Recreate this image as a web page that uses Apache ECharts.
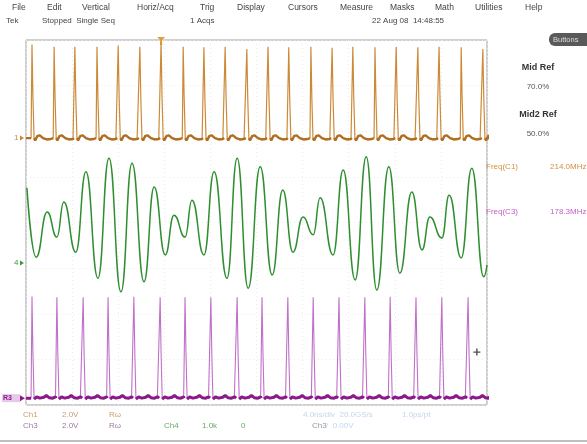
<!DOCTYPE html>
<html><head><meta charset="utf-8">
<script src="https://cdn.jsdelivr.net/npm/echarts@6/dist/echarts.min.js"></script>
<style>html,body{margin:0;padding:0;background:#fff}#c{width:587px;height:444px}</style>
</head><body><div id="c"></div>
<script>
// ---- data (time in divisions 0..10, amplitude in divisions 0..8) ----
const ch1PulseTimes = [0.13,0.61,1.06,1.54,2.00,2.47,2.93,3.41,3.86,4.32,4.79,5.25,5.70,6.18,6.64,7.09,7.57,8.03,8.50,8.96,9.44,9.91];
const ch1PulsePeaks = [7.90,7.85,7.85,7.85,7.88,7.85,7.95,7.85,7.84,7.85,7.80,7.85,7.84,7.85,7.83,7.85,7.84,7.85,7.84,7.85,7.84,7.80];
const ch1Baseline = 5.85;
const ch3PulseTimes = [0.13,0.67,1.24,1.78,2.34,2.91,3.45,4.01,4.58,5.12,5.68,6.23,6.79,7.35,7.90,8.46,9.02,9.59];
const ch3PulsePeaks = [2.38,2.36,2.36,2.36,2.37,2.36,2.36,2.36,2.36,2.36,2.36,2.36,2.36,2.36,2.37,2.36,2.36,2.36];
const ch3Baseline = 0.15;
const ch4Times  = [0.02,0.22,0.46,0.67,0.82,1.08,1.30,1.56,1.80,2.06,2.30,2.56,2.78,3.02,3.21,3.45,3.60,3.86,4.08,4.36,4.58,4.82,5.08,5.34,5.57,5.79,6.01,6.23,6.38,6.66,6.88,7.14,7.38,7.61,7.87,8.11,8.37,8.59,8.76,9.02,9.18,9.44,9.67,9.93,10.0];
const ch4Values = [4.76,3.24,4.23,3.68,4.45,3.35,5.11,2.78,5.41,2.48,5.30,2.70,4.78,3.29,4.16,3.68,4.49,3.29,5.11,2.78,5.41,2.56,5.22,2.85,4.71,3.35,4.12,3.73,4.54,3.29,5.15,2.74,5.44,2.52,5.22,2.89,4.67,3.40,4.12,3.66,4.60,3.22,5.19,2.81,3.07];
// pulse outline: [time offset, level, kind] p=peak, f=fraction of pulse height, b=offset from baseline
const ch1PulseShape = [[-0.02,0,'b'],[0,1,'p'],[0.02,0.45,'f'],[0.045,0,'b'],[0.07,-0.05,'b'],[0.12,0.05,'b'],[0.17,0.06,'b'],[0.24,0.0,'b'],[0.32,-0.03,'b'],[0.41,-0.02,'b']];
const ch3PulseShape = [[-0.02,0,'b'],[0,1,'p'],[0.02,0.45,'f'],[0.045,-0.02,'b'],[0.10,0.03,'b'],[0.17,0,'b'],[0.26,0.02,'b'],[0.31,0.06,'b'],[0.37,0.01,'b'],[0.45,0,'b'],[0.51,0.03,'b']];
const ch1Offset = 5.85, ch4Offset = 3.11, ch3Offset = 0.15;
const trigTime = 2.93;
const cursorPoint = [9.78, 1.16];
const menuItems = [['File',12],['Edit',47],['Vertical',82],['Horiz/Acq',137],['Trig',200],['Display',237],['Cursors',288],['Measure',340],['Masks',390],['Math',435],['Utilities',475],['Help',525]];

function buildTrace(times, peaks, base, shape, thickOnly) {
  const out = [[0, base]];
  times.forEach((t, i) => {
    const h = peaks[i] - base;
    shape.forEach(([dt, v, k]) => {
      let y;
      if (k === 'p') y = peaks[i];
      else if (k === 'f') y = base + v * h;
      else y = base + v;
      if (thickOnly && k !== 'b') { out.push([t + dt, '-']); return; }
      out.push([t + dt, y]);
    });
  });
  out.push([10, base]);
  return out;
}
const ch1Full = buildTrace(ch1PulseTimes, ch1PulsePeaks, ch1Baseline, ch1PulseShape, false);
const ch1Base = buildTrace(ch1PulseTimes, ch1PulsePeaks, ch1Baseline, ch1PulseShape, true);
const ch3Full = buildTrace(ch3PulseTimes, ch3PulsePeaks, ch3Baseline, ch3PulseShape, false);
const ch3Base = buildTrace(ch3PulseTimes, ch3PulsePeaks, ch3Baseline, ch3PulseShape, true);
const ch4Data = ch4Times.map((t, i) => [t, ch4Values[i]]);

const FONT = '"Liberation Sans", Arial, sans-serif';
const chart = echarts.init(document.getElementById('c'), null, {renderer: 'canvas'});
function txt(x, y, s, color, opts) {
  return Object.assign({type: 'text', x: x, y: y, silent: true,
    style: Object.assign({text: s, fill: color || '#555', font: '8px ' + FONT, textVerticalAlign: 'middle'}, (opts || {}))});
}
const graphics = [];
menuItems.forEach(([s, x]) => graphics.push(txt(x, 8, s, '#444', {font: '8.5px ' + FONT})));
graphics.push(txt(6, 21, 'Tek', '#444'));
graphics.push(txt(42, 21, 'Stopped  Single Seq', '#444'));
graphics.push(txt(190, 21, '1 Acqs', '#444'));
graphics.push(txt(372, 21, '22 Aug 08  14:48:55', '#444'));
graphics.push({type: 'rect', shape: {x: 549, y: 33, width: 50, height: 13, r: 6}, style: {fill: '#5a5a5a'}, silent: true});
graphics.push(txt(553, 40, 'Buttons', '#ddd', {font: '7.5px ' + FONT}));
graphics.push(txt(538, 68, 'Mid Ref', '#333', {font: 'bold 9px ' + FONT, textAlign: 'center'}));
graphics.push(txt(538, 87, '70.0%', '#555', {textAlign: 'center'}));
graphics.push(txt(538, 115, 'Mid2 Ref', '#333', {font: 'bold 9px ' + FONT, textAlign: 'center'}));
graphics.push(txt(538, 134, '50.0%', '#555', {textAlign: 'center'}));
graphics.push(txt(486, 167, 'Freq(C1)', '#d09040'));
graphics.push(txt(550, 167, '214.0MHz', '#d09040'));
graphics.push(txt(486, 212, 'Freq(C3)', '#c060c8'));
graphics.push(txt(550, 212, '178.3MHz', '#c060c8'));
// bottom status
graphics.push(txt(23, 415, 'Ch1', '#c8a070'));
graphics.push(txt(62, 415, '2.0V', '#c8a070'));
graphics.push(txt(109, 415, 'Rω', '#c8a070'));
graphics.push(txt(23, 426, 'Ch3', '#a07aa8'));
graphics.push(txt(62, 426, '2.0V', '#a07aa8'));
graphics.push(txt(109, 426, 'Rω', '#a07aa8'));
graphics.push(txt(164, 426, 'Ch4', '#6aa86a'));
graphics.push(txt(202, 426, '1.0k', '#6aa86a'));
graphics.push(txt(241, 426, '0', '#6aa86a'));
graphics.push(txt(303, 415, '4.0ns/div  20.0GS/s', '#c4d6ee'));
graphics.push(txt(402, 415, '1.0ps/pt', '#c4d6ee'));
graphics.push(txt(312, 426, 'Ch3', '#999'));
graphics.push(txt(326, 426, '/  0.00V', '#c4d6ee'));
graphics.push({type: 'line', shape: {x1: 0, y1: 441, x2: 587, y2: 441}, style: {stroke: '#aaa', lineWidth: 1.5}, silent: true});

const option = {
  animation: false,
  backgroundColor: '#fff',
  grid: {left: 26, right: 100, top: 40, bottom: 39, show: true, borderColor: '#a0a0a0', borderWidth: 1},
  xAxis: {type: 'value', min: 0, max: 10, interval: 1,
    axisLine: {show: false}, axisTick: {show: false}, axisLabel: {show: false},
    splitLine: {show: true, lineStyle: {color: '#ebebeb', type: [1, 3]}}},
  yAxis: {type: 'value', min: 0, max: 8, interval: 1,
    axisLine: {show: false}, axisTick: {show: false}, axisLabel: {show: false},
    splitLine: {show: true, lineStyle: {color: '#ebebeb', type: [1, 3]}}},
  series: [
    {name: 'Ch1', type: 'line', data: ch1Full, showSymbol: false, lineStyle: {color: '#cc8a38', width: 1.2}, z: 3},
    {name: 'Ch1 base', type: 'line', data: ch1Base, showSymbol: false, connectNulls: false, lineStyle: {color: '#b06e22', width: 2.4}, z: 4},
    {name: 'Ch4', type: 'line', data: ch4Data, showSymbol: false, smooth: 0.5, smoothMonotone: 'x', lineStyle: {color: '#2e8e30', width: 1.5}, z: 3},
    {name: 'Ch3', type: 'line', data: ch3Full, showSymbol: false, lineStyle: {color: '#c070c8', width: 1.1}, z: 3},
    {name: 'Ch3 base', type: 'line', data: ch3Base, showSymbol: false, connectNulls: false, lineStyle: {color: '#8a1a8a', width: 3}, z: 4},
    {name: 'cursor', type: 'scatter', data: [cursorPoint], symbol: 'path://M4,0H6V4H10V6H6V10H4V6H0V4H4Z', symbolSize: 7, itemStyle: {color: '#222'}, z: 6}
  ],
  graphic: graphics
};
chart.setOption(option);

// channel ground markers and trigger marker, placed through the axes
const p1 = chart.convertToPixel({gridIndex: 0}, [0, ch1Offset]);
const p4 = chart.convertToPixel({gridIndex: 0}, [0, ch4Offset]);
const p3 = chart.convertToPixel({gridIndex: 0}, [0, ch3Offset]);
const pt = chart.convertToPixel({gridIndex: 0}, [trigTime, 8]);
const extra = graphics.concat([
  txt(p1[0] - 12, p1[1], '1', '#c88a3a', {font: '8px ' + FONT}),
  {type: 'polygon', shape: {points: [[p1[0]-6, p1[1]-2.5], [p1[0]-2, p1[1]], [p1[0]-6, p1[1]+2.5]]}, style: {fill: '#c88a3a'}, silent: true},
  txt(p4[0] - 12, p4[1], '4', '#3a9a3a', {font: '8px ' + FONT}),
  {type: 'polygon', shape: {points: [[p4[0]-6, p4[1]-2.5], [p4[0]-2, p4[1]], [p4[0]-6, p4[1]+2.5]]}, style: {fill: '#3a9a3a'}, silent: true},
  {type: 'rect', shape: {x: p3[0] - 24, y: p3[1] - 4, width: 18, height: 8}, style: {fill: '#e8c8e8'}, silent: true},
  txt(p3[0] - 23, p3[1], 'R3', '#8a1a8a', {font: 'bold 7px ' + FONT}),
  {type: 'polygon', shape: {points: [[p3[0]-6, p3[1]-3], [p3[0]-1, p3[1]], [p3[0]-6, p3[1]+3]]}, style: {fill: '#8a1a8a'}, silent: true},
  {type: 'polygon', shape: {points: [[pt[0]-4, pt[1]-3], [pt[0]+4, pt[1]-3], [pt[0]+1, pt[1]], [pt[0]+1, pt[1]+5], [pt[0]-1, pt[1]+5], [pt[0]-1, pt[1]]]}, style: {fill: '#e0a030'}, silent: true}
]);
chart.setOption({graphic: extra}, {replaceMerge: ['graphic']});
</script></body></html>
